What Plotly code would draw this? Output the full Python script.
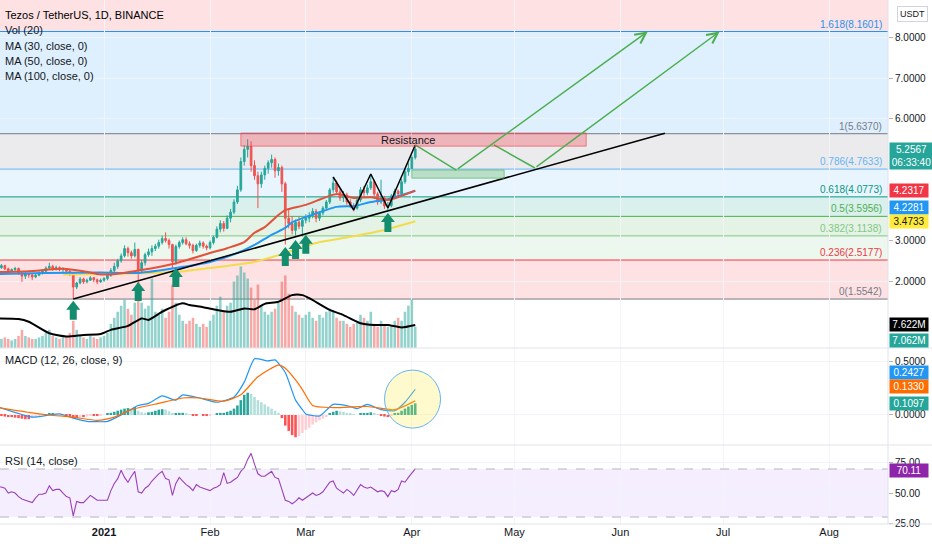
import pandas as pd
import plotly.graph_objects as go

# ---- daily candles, XTZ/USDT, 2020-12-01 .. 2021-04-02 ----
dates = pd.date_range("2020-12-01", "2021-04-02", freq="D")

opens = (
    [2.30, 2.33, 2.38, 2.30, 2.25, 2.28, 2.31, 2.20, 2.12, 2.18, 2.15, 2.10, 2.14, 2.20, 2.24, 2.32,
     2.36, 2.30, 2.33, 2.28, 2.30, 2.24, 2.20, 1.85, 1.95, 2.05, 1.98, 2.02, 2.08, 2.03, 1.98]
    + [2.02, 2.06, 2.14, 2.26, 2.36, 2.50, 2.62, 2.80, 2.70, 2.62, 2.78, 2.25, 2.45, 2.65, 2.72, 2.80,
       2.86, 2.95, 3.05, 3.00, 2.90, 2.48, 2.85, 2.95, 3.02, 2.92, 2.88, 2.75, 2.88, 2.94, 2.86]
    + [2.82, 2.95, 3.08, 3.28, 3.42, 3.30, 3.55, 3.70, 3.95, 4.25, 4.95, 5.25, 5.32, 4.85, 4.60, 4.40,
       4.62, 4.78, 4.92, 5.00, 4.72, 4.80, 4.40, 3.55, 3.42, 3.25, 3.45, 3.35]
    + [3.50, 3.55, 3.62, 3.72, 3.55, 3.68, 3.80, 3.95, 4.25, 4.42, 4.20, 4.05, 4.12, 3.95, 3.85, 3.80,
       4.00, 4.25, 4.18, 4.30, 4.45, 4.15, 3.95, 4.05, 3.85, 3.86, 4.10, 4.22, 4.15, 4.45, 4.70]
    + [4.78, 5.05]
)
highs = (
    [2.40, 2.42, 2.40, 2.33, 2.31, 2.35, 2.33, 2.22, 2.22, 2.20, 2.17, 2.18, 2.24, 2.27, 2.36, 2.45,
     2.40, 2.38, 2.36, 2.34, 2.32, 2.28, 2.22, 1.98, 2.10, 2.08, 2.06, 2.12, 2.10, 2.06, 2.06]
    + [2.10, 2.18, 2.32, 2.45, 2.55, 2.68, 2.88, 2.85, 2.75, 2.95, 2.80, 2.52, 2.70, 2.80, 2.88, 2.92,
       3.02, 3.12, 3.20, 3.05, 2.92, 2.90, 3.00, 3.08, 3.08, 2.98, 2.92, 2.92, 3.00, 2.98, 2.90]
    + [3.00, 3.12, 3.35, 3.50, 3.48, 3.62, 3.78, 4.02, 4.35, 5.05, 5.35, 5.50, 5.45, 4.98, 4.70, 4.70,
       4.85, 4.98, 5.12, 5.05, 4.90, 4.85, 4.45, 3.80, 3.60, 3.52, 3.58, 3.55]
    + [3.65, 3.70, 3.80, 3.78, 3.72, 3.85, 4.00, 4.30, 4.57, 4.48, 4.28, 4.22, 4.18, 4.02, 3.92, 4.08,
       4.32, 4.35, 4.38, 4.62, 4.50, 4.20, 4.50, 4.10, 3.95, 4.15, 4.28, 4.26, 4.52, 4.78, 4.92]
    + [5.10, 5.36]
)
lows = (
    [2.26, 2.30, 2.27, 2.18, 2.22, 2.25, 2.15, 1.98, 2.05, 2.08, 2.02, 2.07, 2.12, 2.16, 2.22, 2.28,
     2.25, 2.26, 2.24, 2.22, 2.18, 2.12, 1.5542, 1.80, 1.92, 1.93, 1.94, 2.00, 1.97, 1.92, 1.95]
    + [1.98, 2.02, 2.10, 2.15, 2.30, 2.45, 2.58, 2.60, 2.55, 2.58, 2.00, 2.18, 2.38, 2.60, 2.62, 2.74,
       2.80, 2.90, 2.95, 2.80, 2.30, 2.40, 2.80, 2.90, 2.88, 2.80, 2.68, 2.72, 2.82, 2.80, 2.76]
    + [2.78, 2.90, 3.05, 3.20, 3.22, 3.28, 3.45, 3.65, 3.90, 4.20, 4.85, 5.05, 4.70, 4.50, 3.80, 4.30,
       4.50, 4.65, 4.80, 4.55, 4.60, 4.20, 2.90, 3.30, 3.15, 3.12, 3.28, 3.10]
    + [3.42, 3.45, 3.55, 3.45, 3.48, 3.62, 3.75, 3.90, 4.18, 4.12, 3.98, 3.95, 3.88, 3.80, 3.72, 3.76,
       3.95, 4.10, 4.12, 4.25, 4.08, 3.88, 3.90, 3.78, 3.75, 3.82, 4.02, 4.05, 4.10, 4.40, 4.60]
    + [4.75, 5.00]
)
closes = (
    [2.33, 2.38, 2.30, 2.25, 2.28, 2.31, 2.20, 2.12, 2.18, 2.15, 2.10, 2.14, 2.20, 2.24, 2.32, 2.36,
     2.30, 2.33, 2.28, 2.30, 2.24, 2.20, 1.85, 1.95, 2.05, 1.98, 2.02, 2.08, 2.03, 1.98, 2.02]
    + [2.06, 2.14, 2.26, 2.36, 2.50, 2.62, 2.80, 2.70, 2.62, 2.78, 2.25, 2.45, 2.65, 2.72, 2.80, 2.86,
       2.95, 3.05, 3.00, 2.90, 2.48, 2.85, 2.95, 3.02, 2.92, 2.88, 2.75, 2.88, 2.94, 2.86, 2.82]
    + [2.95, 3.08, 3.28, 3.42, 3.30, 3.55, 3.70, 3.95, 4.25, 4.95, 5.25, 5.32, 4.85, 4.60, 4.40, 4.62,
       4.78, 4.92, 5.00, 4.72, 4.80, 4.40, 3.55, 3.42, 3.25, 3.45, 3.35, 3.50]
    + [3.55, 3.62, 3.72, 3.55, 3.68, 3.80, 3.95, 4.25, 4.42, 4.20, 4.05, 4.12, 3.95, 3.85, 3.80, 4.00,
       4.25, 4.18, 4.30, 4.45, 4.15, 3.95, 4.05, 3.85, 3.86, 4.10, 4.22, 4.15, 4.45, 4.70, 4.78]
    + [5.05, 5.2567]
)
# volume in millions
volumes = (
    [4, 3, 3.5, 3, 2.5, 3, 4, 6, 4, 3.5, 3, 3, 3.5, 4, 5, 6, 4, 3.5, 3, 3.5, 4, 5, 9, 6, 4, 3.5, 3, 4,
     3.5, 3, 3.5]
    + [4, 5, 8, 10, 12, 14, 16, 13, 11, 15, 22, 15, 13, 14, 23, 12, 11, 13, 10, 12, 21, 15, 11, 9, 8,
       9, 10, 8, 7, 8, 7]
    + [9, 11, 14, 17, 12, 14, 15, 22, 24, 27, 25, 23, 20, 16, 21, 14, 12, 11, 12, 13, 15, 22, 24, 18,
       14, 12, 11, 10]
    + [11, 12, 10, 9, 11, 10, 12, 13, 12, 10, 9, 9, 8, 7, 8, 9, 11, 10, 9, 12, 8, 7, 9, 8, 7, 7, 9, 10,
       9, 12, 14]
    + [16, 7.062]
)
macd_hist = (
    [-0.005, -0.01, -0.015, -0.02, -0.02, -0.025, -0.03, -0.035, -0.04, -0.04, -0.03, -0.02, -0.01,
     0.0, 0.005, 0.01, 0.01, 0.005, 0.0, 0.0, -0.005, -0.01, -0.03, -0.03, -0.02, -0.02, -0.015, -0.01,
     -0.01, -0.01, -0.005]
    + [0.0, 0.01, 0.02, 0.03, 0.04, 0.05, 0.06, 0.065, 0.06, 0.075, 0.04, 0.025, 0.02, 0.025, 0.03,
       0.04, 0.05, 0.055, 0.05, 0.035, 0.01, 0.015, 0.02, 0.02, 0.01, 0.005, -0.005, -0.005, 0.0,
       -0.01, -0.01]
    + [-0.005, 0.0, 0.01, 0.02, 0.02, 0.03, 0.04, 0.06, 0.09, 0.14, 0.19, 0.21, 0.20, 0.17, 0.14, 0.12,
       0.10, 0.08, 0.06, 0.04, 0.02, -0.03, -0.10, -0.15, -0.19, -0.21, -0.20, -0.17]
    + [-0.14, -0.12, -0.09, -0.07, -0.05, -0.035, -0.02, 0.01, 0.03, 0.04, 0.035, 0.03, 0.02, 0.01,
       0.005, 0.0, 0.01, 0.015, 0.02, 0.025, 0.015, 0.005, -0.005, -0.015, -0.02, -0.01, 0.01, 0.02,
       0.04, 0.06, 0.08]
    + [0.095, 0.1097]
)
rsi = [55, 55, 54, 50, 51, 50, 47, 45, 44, 43,
       42, 46, 49, 49, 50, 56, 52, 53, 53, 50,
       47, 46, 31, 43, 42, 42, 45, 48, 46, 44,
       44, 44, 44, 52, 58, 62, 69, 63, 59, 64,
       68, 51, 50, 54, 56, 60, 63, 66, 68, 62,
       61, 48, 58, 63, 60, 57, 55, 52, 57, 55,
       54, 53, 52, 54, 55, 57, 67, 58, 59, 61,
       63, 68, 71, 78, 83, 74, 66, 64, 64, 66,
       68, 63, 62, 53, 44, 43, 41, 43, 46, 44,
       46, 48, 50, 48, 49, 51, 55, 59, 60, 54,
       52, 50, 53, 51, 48, 52, 57, 55, 54, 55,
       53, 51, 52, 51, 47, 52, 51, 53, 60, 59,
       63, 67, 70.11]

# moving averages (sparse points)
ma30_dates = ["2020-12-01", "2020-12-10", "2020-12-20", "2020-12-26", "2020-12-31", "2021-01-05",
              "2021-01-12", "2021-01-22", "2021-02-01", "2021-02-06", "2021-02-11", "2021-02-14",
              "2021-02-17", "2021-02-21", "2021-02-23", "2021-03-01", "2021-03-10", "2021-03-15",
              "2021-03-20", "2021-03-25", "2021-04-02"]
ma30_vals = [2.22, 2.24, 2.30, 2.24, 2.16, 2.18, 2.27, 2.44, 2.69, 2.81, 2.96, 3.19, 3.33, 3.63, 3.75,
             3.88, 4.15, 4.05, 4.07, 4.00, 4.2317]
ma50_dates = ["2020-12-01", "2020-12-15", "2020-12-31", "2021-01-11", "2021-01-22", "2021-02-01",
              "2021-02-09", "2021-02-14", "2021-02-19", "2021-02-23", "2021-02-25", "2021-03-01",
              "2021-03-10", "2021-03-15", "2021-03-20", "2021-03-25", "2021-04-02"]
ma50_vals = [2.17, 2.20, 2.21, 2.20, 2.32, 2.47, 2.69, 2.89, 3.14, 3.31, 3.45, 3.58, 3.83, 3.85, 3.95,
             4.02, 4.2281]
ma100_dates = ["2020-12-20", "2020-12-31", "2021-01-11", "2021-01-22", "2021-01-30", "2021-02-14",
               "2021-02-23", "2021-03-04", "2021-03-14", "2021-03-24", "2021-04-02"]
ma100_vals = [2.16, 2.17, 2.19, 2.22, 2.30, 2.47, 2.69, 2.94, 3.09, 3.26, 3.4733]
volma_dates = ["2020-12-01", "2020-12-07", "2020-12-10", "2020-12-16", "2020-12-21", "2020-12-26",
               "2020-12-31", "2021-01-03", "2021-01-08", "2021-01-12", "2021-01-14", "2021-01-18",
               "2021-01-24", "2021-01-26", "2021-01-30", "2021-02-03", "2021-02-07", "2021-02-11",
               "2021-02-14", "2021-02-17", "2021-02-21", "2021-02-25", "2021-02-28", "2021-03-02",
               "2021-03-08", "2021-03-12", "2021-03-17", "2021-03-21", "2021-03-25", "2021-03-29",
               "2021-04-02"]
volma_vals = [9.8, 9.6, 8.7, 4.9, 3.8, 4.3, 4.6, 6.0, 7.3, 9.8, 9.3, 12.0, 14.8, 14.2, 13.5, 12.6,
              12.0, 13.1, 12.8, 14.6, 15.3, 17.5, 17.5, 16.5, 12.6, 10.9, 8.2, 7.6, 7.6, 6.8, 7.622]
macd_dates = ["2020-12-01", "2020-12-11", "2020-12-16", "2020-12-19", "2020-12-23", "2020-12-27",
              "2021-01-02", "2021-01-06", "2021-01-11", "2021-01-14", "2021-01-18", "2021-01-22",
              "2021-01-24", "2021-01-29", "2021-02-03", "2021-02-08", "2021-02-11", "2021-02-14",
              "2021-02-18", "2021-02-20", "2021-02-23", "2021-02-26", "2021-02-28", "2021-03-01",
              "2021-03-05", "2021-03-09", "2021-03-14", "2021-03-16", "2021-03-19", "2021-03-23",
              "2021-03-27", "2021-03-30", "2021-04-02"]
macd_vals = [0.075, -0.02, 0.0, 0.01, -0.03, -0.06, -0.06, 0.0, 0.09, 0.11, 0.18, 0.14, 0.19, 0.16,
             0.12, 0.17, 0.31, 0.53, 0.51, 0.52, 0.40, 0.14, 0.05, 0.01, -0.01, 0.10, 0.08, 0.06, 0.10,
             0.05, 0.04, 0.12, 0.2427]
signal_dates = ["2020-12-01", "2020-12-11", "2020-12-16", "2020-12-23", "2020-12-30", "2021-01-04",
                "2021-01-09", "2021-01-17", "2021-01-24", "2021-01-29", "2021-02-05", "2021-02-10",
                "2021-02-15", "2021-02-21", "2021-02-23", "2021-02-26", "2021-02-28", "2021-03-03",
                "2021-03-09", "2021-03-19", "2021-03-27", "2021-04-02"]
signal_vals = [0.07, 0.02, 0.0, -0.02, -0.05, -0.02, 0.05, 0.11, 0.16, 0.16, 0.13, 0.19, 0.36, 0.47,
               0.44, 0.33, 0.24, 0.09, 0.07, 0.08, 0.05, 0.1330]

# fibonacci retracement
fib_ratios = ["0", "0.236", "0.382", "0.5", "0.618", "0.786", "1", "1.618", "2.618"]
fib_prices = [1.5542, 2.5177, 3.1138, 3.5956, 4.0773, 4.7633, 5.6370, 8.1601, 12.2424]
fib_colors = ["#787b86", "#f23645", "#81c784", "#4caf50", "#089981", "#64b5f6", "#787b86",
              "#2196f3", "#f23645"]

# drawings
trend_dates = ["2020-12-23", "2021-06-14"]
trend_prices = [1.5542, 5.65]
w_dates = ["2021-03-09", "2021-03-15", "2021-03-20", "2021-03-25", "2021-04-02"]
w_prices = [4.568, 3.753, 4.642, 3.802, 5.358]
path1_dates = ["2021-04-02", "2021-04-14", "2021-06-09"]
path1_prices = [5.36, 4.74, 8.16]
path2_dates = ["2021-04-25", "2021-05-07", "2021-06-30"]
path2_prices = [5.36, 4.79, 8.16]
arrow_dates = ["2020-12-23", "2021-01-11", "2021-01-22", "2021-02-23", "2021-02-26", "2021-03-01",
               "2021-03-25"]
arrow_prices = [1.51, 1.975, 2.32, 2.84, 3.01, 3.14, 3.68]
resist_box = dict(x0="2021-02-10", x1="2021-05-22", y0=5.33, y1=5.655)
target_box = dict(x0="2021-04-01", x1="2021-04-28", y0=4.54, y1=4.74)
circle_center = ("2021-04-01 05:00", 0.15)

FONT = "Liberation Sans, Arial, sans-serif"
TXT = "#131722"
UP, DOWN = "#26a69a", "#ef5350"

vol_colors = ["rgba(38,166,154,0.5)" if c >= o else "rgba(239,83,80,0.5)"
              for o, c in zip(opens, closes)]
hist_colors = []
prev = 0.0
for h in macd_hist:
    if h >= 0:
        hist_colors.append("#26a69a" if h >= prev else "#b2dfdb")
    else:
        hist_colors.append("#ffcdd2" if h > prev else "#ff5252")
    prev = h

fig = go.Figure()

fig.add_trace(go.Bar(x=dates, y=volumes, marker_color=vol_colors, marker_line_width=0,
                     yaxis="y4", hoverinfo="skip"))
fig.add_trace(go.Scatter(x=volma_dates, y=volma_vals, mode="lines", yaxis="y4",
                         line=dict(color="#000000", width=2, shape="spline", smoothing=0.6)))

for d, v, col in [(ma100_dates, ma100_vals, "#f2dc4b"), (ma50_dates, ma50_vals, "#2196f3"),
                  (ma30_dates, ma30_vals, "#e0533a")]:
    fig.add_trace(go.Scatter(x=d, y=v, mode="lines",
                             line=dict(color=col, width=2, shape="spline", smoothing=0.6)))

fig.add_trace(go.Scatter(x=trend_dates, y=trend_prices, mode="lines",
                         line=dict(color="#000000", width=1.5)))

fig.add_trace(go.Candlestick(
    x=dates, open=opens, high=highs, low=lows, close=closes, whiskerwidth=0,
    increasing=dict(line=dict(color=UP, width=1), fillcolor=UP),
    decreasing=dict(line=dict(color=DOWN, width=1), fillcolor=DOWN),
    hoverinfo="skip"))

fig.add_trace(go.Scatter(x=w_dates, y=w_prices, mode="lines", line=dict(color="#000000", width=1.5)))
fig.add_trace(go.Scatter(x=path1_dates[:2], y=path1_prices[:2], mode="lines",
                         line=dict(color="#4caf50", width=1.5)))
fig.add_trace(go.Scatter(x=path2_dates[:2], y=path2_prices[:2], mode="lines",
                         line=dict(color="#4caf50", width=1.5)))

# MACD
fig.add_trace(go.Bar(x=dates, y=macd_hist, marker_color=hist_colors, marker_line_width=0,
                     yaxis="y2", hoverinfo="skip"))
fig.add_trace(go.Scatter(x=macd_dates, y=macd_vals, mode="lines", yaxis="y2",
                         line=dict(color="#2196f3", width=1.2, shape="spline", smoothing=0.5)))
fig.add_trace(go.Scatter(x=signal_dates, y=signal_vals, mode="lines", yaxis="y2",
                         line=dict(color="#ff6d00", width=1.2, shape="spline", smoothing=0.6)))

# RSI
fig.add_trace(go.Scatter(x=dates, y=rsi, mode="lines", yaxis="y3",
                         line=dict(color="#9c3fb8", width=1.1)))

shapes = []
# fib bands and lines
for i in range(1, len(fib_prices)):
    r, g, b = (int(fib_colors[i][k:k + 2], 16) for k in (1, 3, 5))
    shapes.append(dict(type="rect", xref="paper", yref="y", x0=0, x1=1,
                       y0=fib_prices[i - 1], y1=fib_prices[i], layer="below", line_width=0,
                       fillcolor=f"rgba({r},{g},{b},0.15)"))
for p, col in zip(fib_prices[:-1], fib_colors[:-1]):
    shapes.append(dict(type="line", xref="paper", yref="y", x0=0, x1=1, y0=p, y1=p,
                       layer="below", line=dict(color=col, width=1)))

shapes.append(dict(type="rect", xref="x", yref="y", **resist_box,
                   fillcolor="rgba(242,54,69,0.3)", line=dict(color="rgba(242,54,69,0.55)", width=1)))
shapes.append(dict(type="rect", xref="x", yref="y", **target_box,
                   fillcolor="rgba(76,175,80,0.3)", line=dict(color="rgba(76,175,80,0.6)", width=1)))

arrow_path = "M0,0 L7,-9 L3.5,-9 L3.5,-19 L-3.5,-19 L-3.5,-9 L-7,-9 Z"
for d, p in zip(arrow_dates, arrow_prices):
    shapes.append(dict(type="path", xref="x", yref="y", xsizemode="pixel", ysizemode="pixel",
                       xanchor=d, yanchor=p, path=arrow_path, fillcolor="#148c6e", line_width=0))

shapes.append(dict(type="circle", xref="x", yref="y2", xsizemode="pixel", ysizemode="pixel",
                   xanchor=circle_center[0], yanchor=circle_center[1], x0=-28, x1=28, y0=-29, y1=29,
                   fillcolor="rgba(255,235,59,0.25)", line=dict(color="#64b5f6", width=1)))

# RSI band
shapes.append(dict(type="rect", xref="paper", yref="y3", x0=0, x1=1, y0=30, y1=70, layer="below",
                   fillcolor="rgba(153,102,255,0.11)", line_width=0))
for lvl in (30, 70):
    shapes.append(dict(type="line", xref="paper", yref="y3", x0=0, x1=1, y0=lvl, y1=lvl,
                       line=dict(color="#b2b5be", width=1, dash="dash")))

# pane separators
for yp in (0.3359, 0.1508, 0.0):
    shapes.append(dict(type="line", xref="paper", yref="paper", x0=0, x1=1.05, y0=yp, y1=yp,
                       line=dict(color="#e0e3eb", width=1)))
shapes.append(dict(type="line", xref="paper", yref="paper", x0=1, x1=1, y0=0, y1=1,
                   line=dict(color="#e0e3eb", width=1)))

ann = []
legend_lines = ["Tezos / TetherUS, 1D, BINANCE", "Vol (20)", "MA (30, close, 0)", "MA (50, close, 0)",
                "MA (100, close, 0)"]
for k, t in enumerate(legend_lines):
    ann.append(dict(xref="paper", yref="paper", x=0, y=1, xanchor="left", yanchor="middle",
                    xshift=3, yshift=-(15 + 15.3 * k), text=t, showarrow=False,
                    font=dict(size=11, color="#000000" if k == 0 else TXT)))
ann.append(dict(xref="paper", yref="y2 domain", x=0, y=1, xanchor="left", yanchor="middle",
                xshift=3, yshift=-12, text="MACD (12, 26, close, 9)", showarrow=False,
                font=dict(size=11, color=TXT)))
ann.append(dict(xref="paper", yref="y3 domain", x=0, y=1, xanchor="left", yanchor="middle",
                xshift=3, yshift=-16, text="RSI (14, close)", showarrow=False,
                font=dict(size=11, color=TXT)))

for r, p, col in zip(fib_ratios[:-1], fib_prices[:-1], fib_colors[:-1]):
    ann.append(dict(xref="paper", yref="y", x=0.995, y=p, xanchor="right", yanchor="bottom",
                    text=f"{r}({p:.4f})", showarrow=False, font=dict(size=10, color=col)))

ann.append(dict(xref="x", yref="y", x="2021-03-31", y=5.49, text="Resistance", showarrow=False,
                font=dict(size=11, color=TXT)))

for pd_, pp in ((path1_dates, path1_prices), (path2_dates, path2_prices)):
    ann.append(dict(xref="x", yref="y", axref="x", ayref="y", x=pd_[2], y=pp[2], ax=pd_[1], ay=pp[1],
                    text="", showarrow=True, arrowhead=5, arrowsize=1.4, arrowwidth=1.5,
                    arrowcolor="#4caf50"))

# right-scale value labels: (axis, value, text, background, text colour, y shift, box width)
right_labels = [
    ("y", 5.2567, "5.2567<br>06:33:40", UP, "white", -7, 41),
    ("y", 4.2317, "4.2317", "#f23645", "white", 0, 36),
    ("y", 4.2281, "4.2281", "#2196f3", "white", -17, 36),
    ("y", 3.4733, "3.4733", "#ffeb3b", TXT, 0, 36),
    ("y4", 7.622, "7.622M", "#000000", "white", 0, 36),
    ("y4", 7.062, "7.062M", UP, "white", -14, 36),
    ("y2", 0.2427, "0.2427", "#2196f3", "white", 17, 36),
    ("y2", 0.1330, "0.1330", "#ff6d00", "white", 14, 36),
    ("y2", 0.1097, "0.1097", UP, "white", 0, 36),
    ("y3", 70.11, "70.11", "#8e24aa", "white", -2, 36),
]
for yref, v, t, bg, fc, sh, w in right_labels:
    ann.append(dict(xref="paper", yref=yref, x=1, y=v, xanchor="left", yanchor="middle", xshift=1,
                    yshift=sh, text=t, showarrow=False, bgcolor=bg, borderpad=1, width=w,
                    font=dict(size=10, color=fc)))
ann.append(dict(xref="paper", yref="paper", x=1, y=1, xanchor="left", yanchor="top", xshift=9,
                yshift=-6, text="USDT", showarrow=False, bordercolor="#d1d4dc", borderwidth=1,
                borderpad=2, bgcolor="white", font=dict(size=9, color=TXT)))

month_ticks = ["2021-01-01", "2021-02-01", "2021-03-01", "2021-04-01", "2021-05-01", "2021-06-01",
               "2021-07-01", "2021-08-01"]
month_text = ["<b>2021</b>", "Feb", "Mar", "Apr", "May", "Jun", "Jul", "Aug"]

right_axis = dict(side="right", showgrid=True, gridcolor="#f0f3fa", zeroline=False, ticks="outside",
                  ticklen=4, tickcolor="#b2b5be", showline=False, tickfont=dict(size=10, color=TXT),
                  fixedrange=True, automargin=False)

fig.update_layout(
    width=932, height=550,
    margin=dict(l=0, r=44, t=0, b=26, autoexpand=False),
    paper_bgcolor="white", plot_bgcolor="white",
    font=dict(family=FONT, color=TXT),
    showlegend=False, bargap=0.25,
    xaxis=dict(type="date", range=["2020-12-01 14:00", "2021-08-18 05:30"], anchor="y3",
               tickvals=month_ticks, ticktext=month_text, showgrid=True, gridcolor="#f3f4f8",
               ticks="", tickfont=dict(size=11, color=TXT), rangeslider=dict(visible=False),
               zeroline=False, automargin=False),
    yaxis=dict(domain=[0.3359, 1], range=[0.346, 8.938], tickvals=[2, 3, 6, 7, 8],
               tickformat=".4f", **right_axis),
    yaxis4=dict(overlaying="y", range=[0, 115.2], visible=False, fixedrange=True),
    yaxis2=dict(domain=[0.1508, 0.3359], range=[-0.283, 0.632], tickvals=[0, 0.5],
                tickformat=".4f", **right_axis),
    yaxis3=dict(domain=[0, 0.1508], range=[24.2, 90], tickvals=[25, 50, 75], tickformat=".2f",
                **right_axis),
    shapes=shapes,
    annotations=ann,
)

fig.write_html("out.html", config={"displayModeBar": False})

# drop the browser's default body margin so the figure sits at the page corner
with open("out.html", encoding="utf-8") as fh:
    html = fh.read()
html = html.replace("<head>", "<head><style>html,body{margin:0;padding:0;overflow:hidden}</style>", 1)
with open("out.html", "w", encoding="utf-8") as fh:
    fh.write(html)
